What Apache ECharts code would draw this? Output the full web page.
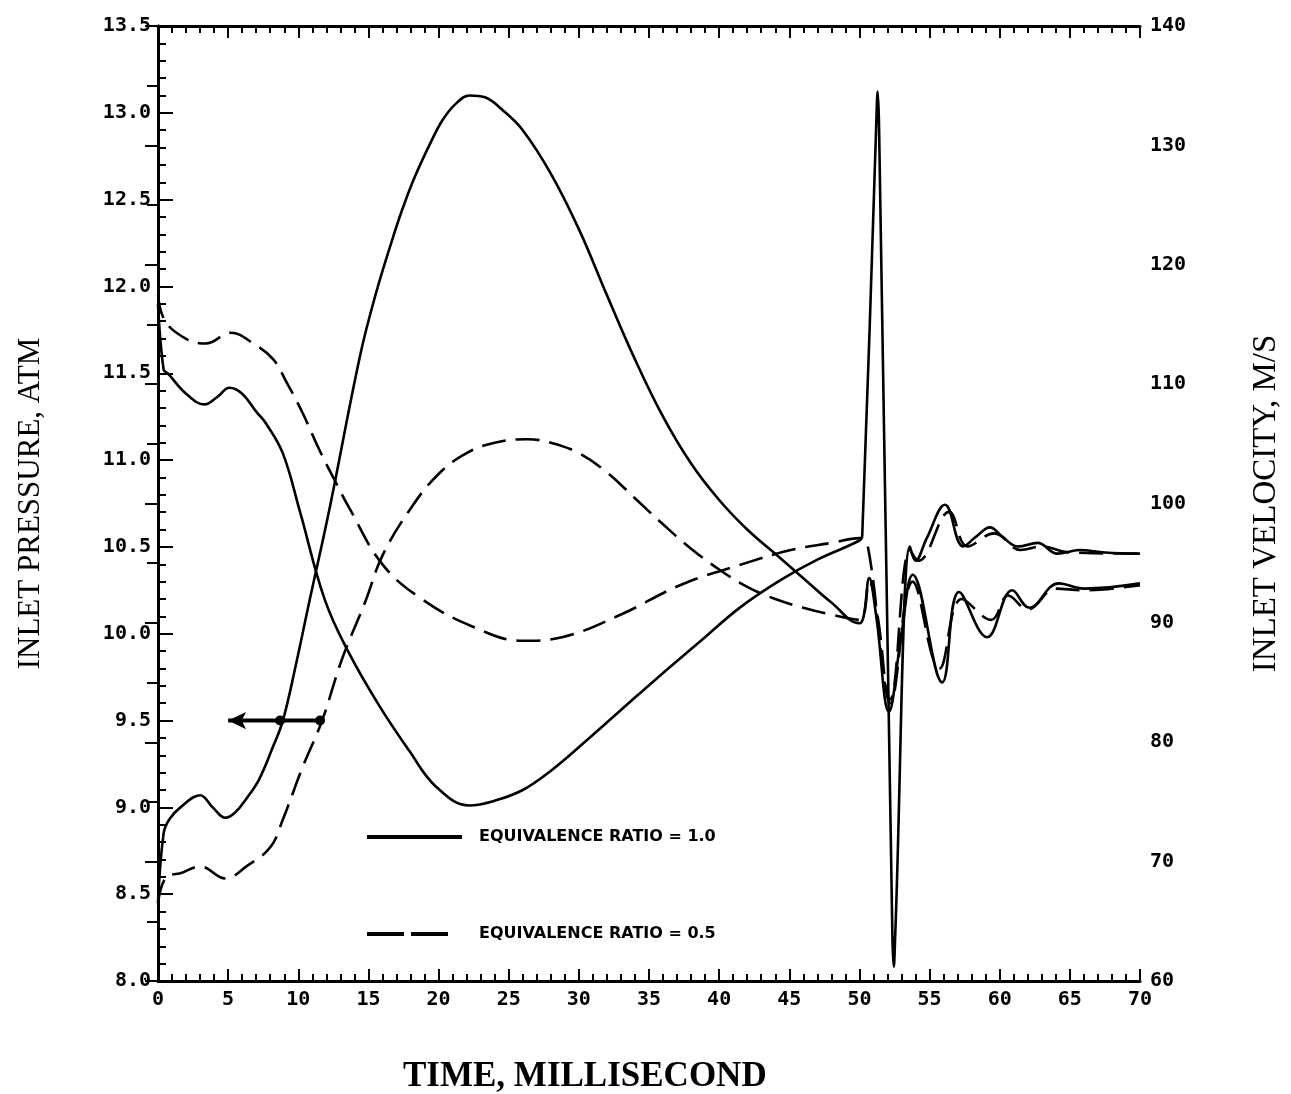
<!DOCTYPE html>
<html>
<head>
<meta charset="utf-8">
<title>Inlet pressure and velocity</title>
<script src="https://cdn.jsdelivr.net/npm/echarts@6/dist/echarts.min.js"></script>
<style>
  html, body { margin: 0; padding: 0; background: #fff; }
  #chart { width: 1291px; height: 1094px; }
</style>
</head>
<body>
<div id="chart"></div>
<script>
// time ticks and series labels
var timeTicks = [0, 5, 10, 15, 20, 25, 30, 35, 40, 45, 50, 55, 60, 65, 70];
var seriesNames = ['EQUIVALENCE RATIO = 1.0', 'EQUIVALENCE RATIO = 0.5'];

// inlet pressure, ATM (equivalence ratio 1.0)
var p1Time = [0, 0.4, 0.8, 1.6, 3.0, 3.9, 4.8, 5.5, 6.3, 7.2, 8.2, 8.9, 9.8, 10.8, 12.2, 14.4, 15.5, 16.7, 17.4, 18.3, 19.5, 20.3, 21.2, 22.2, 23.3, 24.5, 26, 28, 30, 32, 34, 36, 38, 40, 42, 44, 46, 48, 50, 50.3, 50.7, 51.2, 52.1, 53.0, 53.8, 55.9, 57.1, 59.1, 60.9, 62.1, 64.2, 66, 70];
var p1Value = [8.45, 8.85, 8.93, 9.0, 9.07, 9.0, 8.94, 8.97, 9.05, 9.16, 9.35, 9.5, 9.81, 10.19, 10.71, 11.6, 11.95, 12.27, 12.44, 12.63, 12.84, 12.96, 13.05, 13.1, 13.09, 13.02, 12.9, 12.65, 12.33, 11.95, 11.58, 11.25, 10.98, 10.77, 10.6, 10.46, 10.32, 10.18, 10.06, 10.1, 10.32, 10.1, 9.55, 10.0, 10.34, 9.72, 10.24, 9.98, 10.25, 10.15, 10.29, 10.26, 10.29];

// inlet pressure, ATM (equivalence ratio 0.5)
var p2Time = [0, 0.6, 1.6, 3.0, 4.8, 6.3, 8.0, 8.9, 10.3, 11.7, 13.1, 14.8, 16, 18, 20, 22, 24, 26.3, 28, 30, 32, 34, 36, 38, 40, 42, 44, 46, 48, 50, 50.7, 51.3, 52.2, 53.8, 55.7, 57.3, 59.4, 60.6, 62, 64, 66, 70];
var p2Value = [8.45, 8.6, 8.62, 8.66, 8.59, 8.66, 8.77, 8.93, 9.23, 9.5, 9.85, 10.19, 10.45, 10.72, 10.92, 11.04, 11.1, 11.12, 11.1, 11.04, 10.93, 10.78, 10.63, 10.49, 10.37, 10.27, 10.2, 10.15, 10.11, 10.08, 10.3, 10.1, 9.6, 10.3, 9.8, 10.2, 10.08, 10.22, 10.14, 10.26, 10.25, 10.28];

// inlet velocity, M/S (equivalence ratio 1.0)
var v1Time = [0, 0.4, 0.7, 2, 3.3, 4.2, 5.1, 6, 7, 7.7, 8.9, 10.1, 11.9, 13.6, 15.8, 17.9, 19.8, 22.2, 24, 26, 28.1, 30.5, 33, 35.8, 38.7, 41.5, 44.4, 47, 50, 50.2, 51.2, 51.3, 51.4, 52.35, 52.45, 52.55, 53.6, 54, 54.8, 56.1, 57.4, 58.3, 59.3, 60.2, 61.3, 62.7, 64.1, 65.7, 67.5, 70];
var v1Value = [116.7, 111.2, 110.9, 109.2, 108.3, 108.9, 109.7, 109.2, 107.7, 106.7, 104.2, 99.4, 91.9, 87.5, 83.0, 79.3, 76.3, 74.7, 75.1, 76.0, 77.7, 80.1, 82.7, 85.6, 88.5, 91.3, 93.6, 95.3, 96.9, 97.3, 131.8, 134.5, 131.5, 63.8, 61.2, 63.8, 96.4, 95.2, 97.1, 99.9, 96.4, 97.2, 98.0, 97.2, 96.4, 96.7, 95.8, 96.1, 95.9, 95.8];

// inlet velocity, M/S (equivalence ratio 0.5)
var v2Time = [0, 0.5, 2, 3.4, 5.2, 6.8, 8.2, 9.1, 10.3, 11.5, 12.7, 13.6, 16, 18.8, 22.4, 26, 28.8, 33, 37.3, 41.6, 45.1, 48, 50, 50.6, 52.2, 53.6, 54.2, 56.4, 57.7, 59.6, 61.5, 63, 65, 70];
var v2Value = [117.5, 115.3, 113.8, 113.4, 114.3, 113.4, 112.1, 110.3, 107.6, 104.5, 101.7, 99.7, 94.9, 92.0, 89.7, 88.5, 88.8, 90.7, 93.2, 94.9, 96.1, 96.7, 97.1, 96.4, 83.6, 96.1, 95.2, 99.3, 96.4, 97.5, 96.1, 96.4, 95.9, 95.8];

// arrow marking the pressure curves (left axis)
var arrowTime = [5.0, 8.7, 11.55];
var arrowValue = [9.5, 9.5, 9.5];

function pairs(xs, ys) {
  return xs.map(function (x, i) { return [x, ys[i]]; });
}

var myChart = echarts.init(document.getElementById('chart'));

var tickFont = {
  color: '#000',
  fontFamily: 'DejaVu Sans Mono',
  fontWeight: 'bold',
  fontSize: 20
};

function curve(name, data, yIndex, dashed) {
  return {
    name: name,
    type: 'line',
    yAxisIndex: yIndex,
    data: data,
    symbol: 'none',
    showSymbol: false,
    smooth: 0.4,
    animation: false,
    lineStyle: { color: '#000', width: 2.6, type: dashed ? [24, 10] : 'solid' },
    itemStyle: { color: '#000' }
  };
}

var option = {
  backgroundColor: '#fff',
  animation: false,
  title: {
    text: 'TIME, MILLISECOND',
    left: 398,
    top: 1054,
    textStyle: { fontFamily: 'Liberation Serif', fontWeight: 'bold', fontSize: 35, color: '#000' }
  },
  legend: {
    data: [
      { name: seriesNames[0], lineStyle: { type: 'solid', width: 4 } },
      { name: seriesNames[1], lineStyle: { type: [37, 7, 37, 40], width: 4 } }
    ],
    orient: 'vertical',
    left: 360,
    top: 824,
    itemWidth: 95,
    itemHeight: 14,
    itemGap: 81,
    itemStyle: { opacity: 0 },
    textStyle: { fontFamily: 'DejaVu Sans', fontWeight: 'bold', fontSize: 16, color: '#000', padding: [0, 0, 0, 12] }
  },
  grid: { left: 158, right: 151, top: 26, bottom: 113 },
  xAxis: [
    {
      type: 'value', min: 0, max: 70, interval: 5,
      axisLine: { lineStyle: { color: '#000', width: 3 } },
      axisTick: { inside: true, length: 12, lineStyle: { color: '#000', width: 2 } },
      minorTick: { show: true, splitNumber: 5, length: 7, lineStyle: { color: '#000', width: 2 } },
      axisLabel: Object.assign({ margin: 9 }, tickFont),
      splitLine: { show: false }
    },
    {
      type: 'value', position: 'top', min: 0, max: 70, interval: 5,
      axisLine: { lineStyle: { color: '#000', width: 3 } },
      axisTick: { inside: true, length: 12, lineStyle: { color: '#000', width: 2 } },
      minorTick: { show: true, splitNumber: 5, length: 7, lineStyle: { color: '#000', width: 2 } },
      axisLabel: { show: false },
      splitLine: { show: false }
    }
  ],
  yAxis: [
    {
      type: 'value', min: 8, max: 13.5, interval: 0.5,
      name: 'INLET PRESSURE, ATM',
      nameLocation: 'middle', nameRotate: 90, nameGap: 112,
      nameTextStyle: { fontFamily: 'Liberation Serif', fontSize: 31, color: '#000' },
      axisLine: { lineStyle: { color: '#000', width: 3 } },
      axisTick: { inside: true, length: 15, lineStyle: { color: '#000', width: 2 } },
      minorTick: { show: true, splitNumber: 5, length: 8, lineStyle: { color: '#000', width: 2 } },
      axisLabel: Object.assign({ margin: 7, formatter: function (v) { return v.toFixed(1); } }, tickFont),
      splitLine: { show: false }
    },
    {
      type: 'value', position: 'right', min: 60, max: 140, interval: 10,
      name: 'INLET VELOCITY, M/S',
      nameLocation: 'middle', nameRotate: 90, nameGap: 110,
      nameTextStyle: { fontFamily: 'Liberation Serif', fontSize: 33, color: '#000' },
      axisLine: { lineStyle: { color: '#000', width: 3 } },
      axisTick: { inside: true, length: 13, lineStyle: { color: '#000', width: 2 } },
      minorTick: { show: true, splitNumber: 2, length: 11, lineStyle: { color: '#000', width: 2 } },
      axisLabel: Object.assign({ margin: 10 }, tickFont),
      splitLine: { show: false }
    }
  ],
  series: [
    curve(seriesNames[0], pairs(p1Time, p1Value), 0, false),
    curve(seriesNames[1], pairs(p2Time, p2Value), 0, true),
    curve(seriesNames[0], pairs(v1Time, v1Value), 1, false),
    curve(seriesNames[1], pairs(v2Time, v2Value), 1, true),
    {
      type: 'line',
      yAxisIndex: 0,
      silent: true,
      animation: false,
      lineStyle: { color: '#000', width: 4 },
      itemStyle: { color: '#000' },
      data: pairs(arrowTime, arrowValue).map(function (d, i) {
        return i === 0
          ? { value: d, symbol: 'arrow', symbolSize: [13, 18], symbolRotate: 90 }
          : { value: d, symbol: 'circle', symbolSize: 10 };
      })
    }
  ]
};

myChart.setOption(option);
</script>
</body>
</html>
